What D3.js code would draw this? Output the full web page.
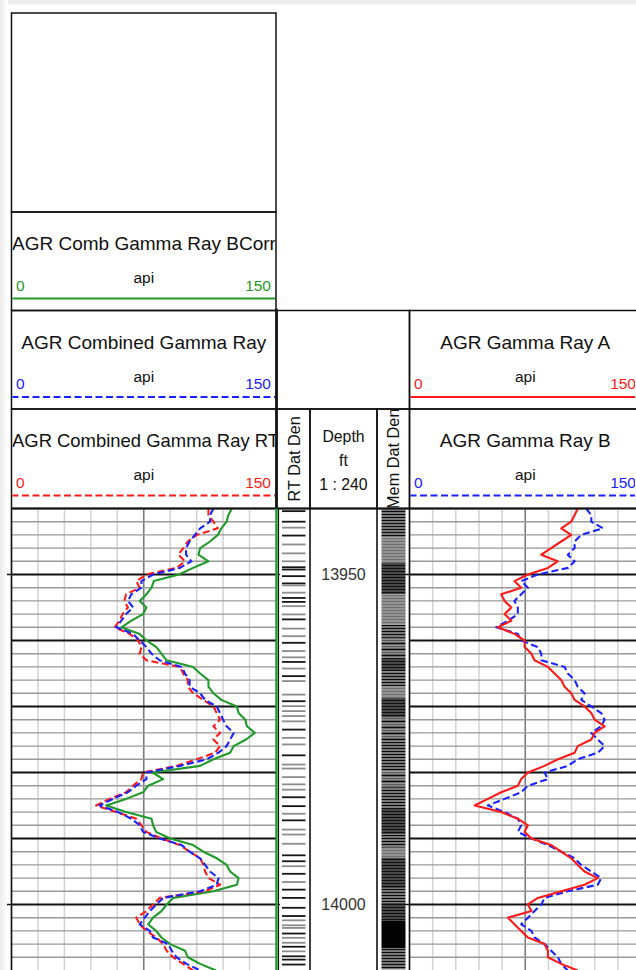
<!DOCTYPE html>
<html><head><meta charset="utf-8">
<script src="https://cdn.jsdelivr.net/npm/d3@7/dist/d3.min.js"></script>
<style>
html,body{margin:0;padding:0;background:#fff;}
svg{display:block;font-family:"Liberation Sans",Arial,Helvetica,sans-serif;}
</style>
</head><body>
<svg id="chart" width="636" height="970"></svg>
<script>
// ---------------- DATA ----------------
const depthSamples = [13940,13941,13942,13943,13944,13945,13946,13947,13948,13949,
  13950,13951,13952,13953,13954,13955,13956,13957,13958,13959,
  13960,13961,13962,13963,13964,13965,13966,13967,13968,13969,
  13970,13971,13972,13973,13974,13975,13976,13977,13978,13979,
  13980,13981,13982,13983,13984,13985,13986,13987,13988,13989,
  13990,13991,13992,13993,13994,13995,13996,13997,13998,13999,
  14000,14001,14002,14003,14004,14005,14006,14007,14008,14009,14010];

// AGR Comb Gamma Ray BCorr (green, left track)
const grBCorr = [125,123,122,119,117,112.6,107,106,111.7,103,
  95,80.7,79.4,76.5,72.7,76.5,74.6,68,62.3,72.7,
  76.5,82.2,85,88,103,107,111.7,111.7,114.5,119,
  127.8,128.8,132.6,133.5,138,133,126,124,114.5,107,
  80,86,77.5,74.6,65,53.7,65,79.4,80.3,82,
  90,103,108.8,116.4,122,124,128.8,127.8,114.5,91.7,
  88,85,80.3,77.5,82,85,90,98.4,100,107,116];

// AGR Combined Gamma Ray (blue dashed, left track)
const grCombined = [114.5,112.6,112.6,107,104,101,99,99,102,95.5,
  80.3,73.7,73.7,68,66,69,65,62.3,59.4,69,
  72.7,76.5,79.4,84,96.5,98.4,101,101,107,109.8,
  116.4,118.3,120,122,126,124,122,117.4,110.7,95.5,
  76.5,76.5,70.8,66,57.5,50,60.4,68,72.7,74.6,
  84,96.5,101,107,109.8,112.6,117.4,116.4,107,86,
  82.2,78.4,75.6,72.7,78.4,80.3,88.9,90.8,93.6,99.3,107];

// AGR Combined Gamma Ray RT (red dashed, left track)
const grCombinedRT = [111.7,111.7,114.5,117,105,100,97.4,94.6,98.4,93.6,
  76.5,70.8,72.7,65,64,66,63,61.3,58.5,67,
  71.8,73.7,72.7,76.5,95.5,97.4,100,100,103,108.8,
  114.5,116.4,118.3,114.5,118.3,114.5,118.3,115.5,105,93.6,
  74.6,73.7,69,65,55.6,48,59.4,70.8,73.7,76.5,
  85,95.5,101,107,108.8,109.8,111.7,118.3,109.8,84,
  80.3,76.5,70.8,72.7,76.5,82.2,86,88,91.7,97.4,103];

// AGR Gamma Ray A (red solid, right track)
const grA = [109,107,104.8,98.3,104.8,98.3,91.8,85.4,96,89.7,
  76.7,68,72.4,59.4,61.6,66,61.6,66,57.3,68,
  74.6,74.6,79,81,89.7,94,98.3,100.5,104.8,107,
  113.4,117.8,120,126.4,120,117.8,109,107,96.2,87.5,
  76.7,72.4,70.2,59.4,50.8,42.2,59.4,70.2,76.7,74.6,
  79,91.8,98.3,104.8,109,113.4,122,113.4,98.3,83.2,
  76.7,79,63.8,68,72.4,76.7,87.5,89.7,89.7,98.3,109];

// AGR Gamma Ray B (blue dashed, right track)
const grB = [114.5,117.8,117.8,125.3,111.3,107,107,102.6,107,102.6,
  83.2,72.4,76.7,72.4,68,70.2,70.2,63.8,56.2,70.2,
  72.4,83.2,85.4,85.4,100.5,102.6,107,109,113.4,111.3,
  117.8,124.2,126.4,124.2,117.8,122,126.4,122,109,102.6,
  87.5,89.7,76.7,72.4,61.6,50.8,61.6,70.2,72.4,70.2,
  79,89.7,98.3,107,111.3,117.8,124.2,122,102.6,87.5,
  85.4,81,76.7,72.4,79,81,87.5,91.8,96.2,98.3,102.6];

// RT Dat Den: depth of each data sample, shade (1 = black, 0 = grey)
const rtDenDepth = [13940.4,13942.0,13942.9,13944.1,13945.45,13946.8,13948.0,13948.9,13949.25,13950.25,
  13951.35,13951.65,13952.75,13953.55,13954.15,13954.8,13956.05,13956.8,13958.2,13959.35,
  13960.35,13961.6,13962.55,13963.25,13964.25,13965.4,13966.15,13968.2,13969.2,13969.95,
  13970.7,13971.45,13972.25,13973.5,13974.75,13975.75,13977.4,13978.8,13979.4,13980.7,
  13981.8,13982.6,13983.75,13985.1,13986.25,13987.25,13988.65,13989.4,13990.8,13992.55,
  13993.45,13994.2,13995.35,13996.6,13997.75,13999.0,14000.5,14001.75,14002.4,14003.15,
  14003.55,14004.4,14005.05,14005.8,14006.4,14007.1,14007.85,14008.35,14009.1];
const rtDenShade = [1,1,0,1,0,0,0,1,1,1,
  1,0,0,1,1,0,0,1,0,0,
  1,0,0,1,0,1,0,0,1,0,
  0,0,0,1,0,0,1,0,0,0,
  0,0,1,1,0,1,0,0,0,1,
  1,0,1,0,1,1,1,1,0,0,
  0,1,0,0,1,0,1,1,1];

// Mem Dat Den: runs of samples (top depth, bottom depth, texture)
const memTop    = [13940,13944.4,13948.2,13953.0,13957.6,13959.6,13962.6,13964.65,13966.9,13968.7,13971.7,
  13975.26,13979.8,13982.3,13985.35,13989.4,13991.4,13992.9,13997.5,13999.7,14002.5,14006.6];
const memBottom = [13944.4,13948.2,13953.0,13957.6,13959.6,13962.6,13964.65,13966.9,13968.7,13971.7,13975.26,
  13979.8,13982.3,13985.35,13989.4,13991.4,13992.9,13997.5,13999.7,14002.5,14006.6,14009.85];
const memTexture = ["blk","gry","dark","gry","blk","mix","dark","blk","gry","dark","mix",
  "blk","mix","blk","dark","blk","gry","dark","blk","dark","solid","blk"];

const apiGrid = [0,15,30,45,60,75,90,105,120,135,150];
const depthLabels = [13950, 14000];
const scaleMin = 0, scaleMax = 150;

// ---------------- LAYOUT ----------------
const svg = d3.select("#chart");
const W = 636, H = 970;
const yTop = 508.5, yBot = 970;
const y = d3.scaleLinear().domain([13940, 14009.85]).range([yTop, 969.5]);
const xL = d3.scaleLinear().domain([scaleMin, scaleMax]).range([11.5, 276]);
const xR = d3.scaleLinear().domain([scaleMin, scaleMax]).range([409.5, 641]);
const col = {green:"#1f9a2b", blue:"#1a22ff", red:"#ff1a1a"};

// page frame shading
svg.append("rect").attr("x",0).attr("y",0).attr("width",W).attr("height",H).attr("fill","#fff");
svg.append("rect").attr("x",0).attr("y",0).attr("width",W).attr("height",4.5).attr("fill","#ececec");
const defs = svg.append("defs");
const lg = defs.append("linearGradient").attr("id","lshade");
lg.append("stop").attr("offset","0").attr("stop-color","#ececec");
lg.append("stop").attr("offset","1").attr("stop-color","#fff");
svg.append("rect").attr("x",0).attr("y",0).attr("width",8).attr("height",H).attr("fill","url(#lshade)");

// textures for data-density tracks
function pat(id, h, parts){
  const p = defs.append("pattern").attr("id",id).attr("patternUnits","userSpaceOnUse")
    .attr("width",40).attr("height",h).attr("y", 0.5);
  p.append("rect").attr("width",40).attr("height",h).attr("fill","#fff");
  parts.forEach(([y0,hh,c])=>p.append("rect").attr("y",y0).attr("width",40).attr("height",hh).attr("fill",c));
}
pat("p-blk",3,[[0,2.1,"#0a0a0a"]]);
pat("p-gry",3,[[0,2.5,"#6f6f6f"]]);
pat("p-mix",6,[[0,2.2,"#0a0a0a"],[3,2.4,"#5a5a5a"]]);
pat("p-dark",3,[[0,2.5,"#111"],[2.5,0.3,"#666"]]);
pat("p-solid",3,[[0,3,"#030303"]]);

// ---------------- HEADERS ----------------
function clipRect(id,x0,y0,x1,y1){
  defs.append("clipPath").attr("id",id).append("rect")
    .attr("x",x0).attr("y",y0).attr("width",x1-x0).attr("height",y1-y0);
}
function box(x0,y0,x1,y1){
  svg.append("rect").attr("x",x0).attr("y",y0).attr("width",x1-x0).attr("height",y1-y0)
    .attr("fill","none").attr("stroke","#111").attr("stroke-width",1.5);
}
let clipN = 0;
function curveHeader(x0,x1,y0,y1,title,color,dash){
  const id = "hc"+(clipN++);
  clipRect(id,x0+1,y0+1,Math.min(x1,W)-1,y1-1);
  const g = svg.append("g").attr("clip-path","url(#"+id+")");
  const cx = (x0+x1)/2;
  const t = g.append("text").attr("x",cx).attr("y",y0+38).attr("text-anchor","middle")
    .attr("font-size",19).attr("fill","#111").text(title);
  const tw = t.node().getComputedTextLength();
  if (tw > (x1-x0)-6) {
    t.attr("x",x0+0.5).attr("text-anchor","start");
    if (tw > 267) t.attr("textLength",267).attr("lengthAdjust","spacingAndGlyphs");
  }
  g.append("text").attr("x",cx).attr("y",y0+71).attr("text-anchor","middle")
    .attr("font-size",15.5).attr("fill","#111").text("api");
  g.append("text").attr("x",x0+4.5).attr("y",y0+78.5).attr("font-size",15.5).attr("fill",color).text(scaleMin);
  g.append("text").attr("x",x1-5).attr("y",y0+78.5).attr("text-anchor","end").attr("font-size",15.5).attr("fill",color).text(scaleMax);
  g.append("line").attr("x1",x0).attr("x2",x1).attr("y1",y0+86.5).attr("y2",y0+86.5)
    .attr("stroke",color).attr("stroke-width",2).attr("stroke-dasharray",dash?"7,3.5":null);
  box(x0,y0,x1,y1);
}

const hTop = 13, h1 = 212, h2 = 310.5, h3 = 409, h4 = yTop;
box(11.5,hTop,276,h1);
curveHeader(11.5,276,h1,h2,"AGR Comb Gamma Ray BCorr",col.green,false);
curveHeader(11.5,276,h2,h3,"AGR Combined Gamma Ray",col.blue,true);
curveHeader(11.5,276,h3,h4,"AGR Combined Gamma Ray RT",col.red,true);
box(277,h2,409.5,h3);
curveHeader(409.5,641,h2,h3,"AGR Gamma Ray A",col.red,false);
curveHeader(409.5,641,h3,h4,"AGR Gamma Ray B",col.blue,true);

// RT Dat Den / Depth / Mem Dat Den headers
function vertHeader(x0,x1,label){
  const id = "hc"+(clipN++);
  clipRect(id,x0+1,h3+1,x1-1,h4-1);
  svg.append("g").attr("clip-path","url(#"+id+")").append("text")
    .attr("transform",`translate(${(x0+x1)/2+6},${(h3+h4)/2}) rotate(-90)`)
    .attr("text-anchor","middle").attr("font-size",16.3).attr("fill","#111").text(label);
  box(x0,h3,x1,h4);
}
vertHeader(277,310,"RT Dat Den");
vertHeader(377,409.5,"Mem Dat Den");
const dh = svg.append("g");
[["Depth",441.5],["ft",465.5],["1 : 240",489.5]].forEach(([s,yy])=>{
  dh.append("text").attr("x",343.5).attr("y",yy).attr("text-anchor","middle")
    .attr("font-size",15.8).attr("fill","#111").text(s);
});
box(310,h3,377,h4);

// ---------------- TRACK GRIDS ----------------
const minorDepths = d3.range(13942, 14010, 2).filter(d => d % 10 !== 0);
const majorDepths = d3.range(13950, 14010, 10);
function grid(x, xa, xb){
  const g = svg.append("g");
  apiGrid.forEach(v=>{
    const isC = v === 75;
    g.append("line").attr("x1",x(v)).attr("x2",x(v)).attr("y1",yTop).attr("y2",yBot)
      .attr("stroke", isC ? "#7c7c7c" : "#d2d2d2").attr("stroke-width", isC ? 1.6 : 1.5);
  });
  minorDepths.forEach(d=>{
    g.append("line").attr("x1",xa).attr("x2",xb).attr("y1",y(d)).attr("y2",y(d))
      .attr("stroke","#9a9a9a").attr("stroke-width",1.4);
  });
  majorDepths.forEach(d=>{
    g.append("line").attr("x1",xa).attr("x2",xb).attr("y1",y(d)).attr("y2",y(d))
      .attr("stroke","#111").attr("stroke-width",2);
  });
}
grid(xL, 11.5, 276);
grid(xR, 409.5, W);

// tick marks at labelled depths
depthLabels.forEach(d=>{
  svg.append("line").attr("x1",7).attr("x2",12).attr("y1",y(d)).attr("y2",y(d)).attr("stroke","#111").attr("stroke-width",1.5);
  svg.append("line").attr("x1",404.5).attr("x2",410).attr("y1",y(d)).attr("y2",y(d)).attr("stroke","#111").attr("stroke-width",1.5);
  svg.append("line").attr("x1",276).attr("x2",280).attr("y1",y(d)).attr("y2",y(d)).attr("stroke","#111").attr("stroke-width",1.2);
});

// ---------------- CURVES ----------------
clipRect("clipL",11.5,yTop,276,yBot);
clipRect("clipR",409.5,yTop,W,yBot);
function curve(x, vals, color, dash, clip){
  const pts = depthSamples.map((d,i)=>[d, vals[i]]);
  const line = d3.line().x(p=>x(p[1])).y(p=>y(p[0]));
  svg.append("path").attr("clip-path","url(#"+clip+")").attr("d",line(pts))
    .attr("fill","none").attr("stroke",color).attr("stroke-width",2.1)
    .attr("stroke-linejoin","round").attr("stroke-dasharray",dash?"7,3.5":null);
}
curve(xL, grBCorr, col.green, false, "clipL");
curve(xL, grCombinedRT, col.red, true, "clipL");
curve(xL, grCombined, col.blue, true, "clipL");
curve(xR, grB, col.blue, true, "clipR");
curve(xR, grA, col.red, false, "clipR");

// ---------------- DATA DENSITY TRACKS ----------------
const rtG = svg.append("g");
rtDenDepth.forEach((d,i)=>{
  rtG.append("line").attr("x1",282).attr("x2",305.5).attr("y1",y(d)).attr("y2",y(d))
    .attr("stroke", rtDenShade[i] ? "#151515" : "#8c8c8c").attr("stroke-width",1.8);
});
const memG = svg.append("g");
memTop.forEach((d,i)=>{
  memG.append("rect").attr("x",381.5).attr("width",24).attr("y",y(d)).attr("height",y(memBottom[i])-y(d))
    .attr("fill","url(#p-"+memTexture[i]+")");
});

// depth labels
depthLabels.forEach(d=>{
  svg.append("text").attr("x",343.5).attr("y",y(d)).attr("dy","0.36em").attr("text-anchor","middle")
    .attr("font-size",16).attr("fill","#333").text(d);
});

// ---------------- TRACK BORDERS ----------------
const bd = svg.append("g").attr("stroke","#111").attr("fill","none");
[11.5, 310, 377, 409.5].forEach(x=>{
  bd.append("line").attr("x1",x).attr("x2",x).attr("y1",yTop).attr("y2",yBot).attr("stroke-width",1.6);
});
bd.append("line").attr("x1",278.5).attr("x2",278.5).attr("y1",yTop).attr("y2",yBot).attr("stroke-width",1.2);
svg.append("line").attr("x1",276.5).attr("x2",276.5).attr("y1",yTop).attr("y2",yBot)
  .attr("stroke",col.green).attr("stroke-width",2.4);
bd.append("line").attr("x1",11.5).attr("x2",W).attr("y1",yTop).attr("y2",yTop).attr("stroke-width",2);
bd.append("line").attr("x1",276.5).attr("x2",276.5).attr("y1",h2-2).attr("y2",yTop).attr("stroke-width",2.2);
</script>
</body></html>
